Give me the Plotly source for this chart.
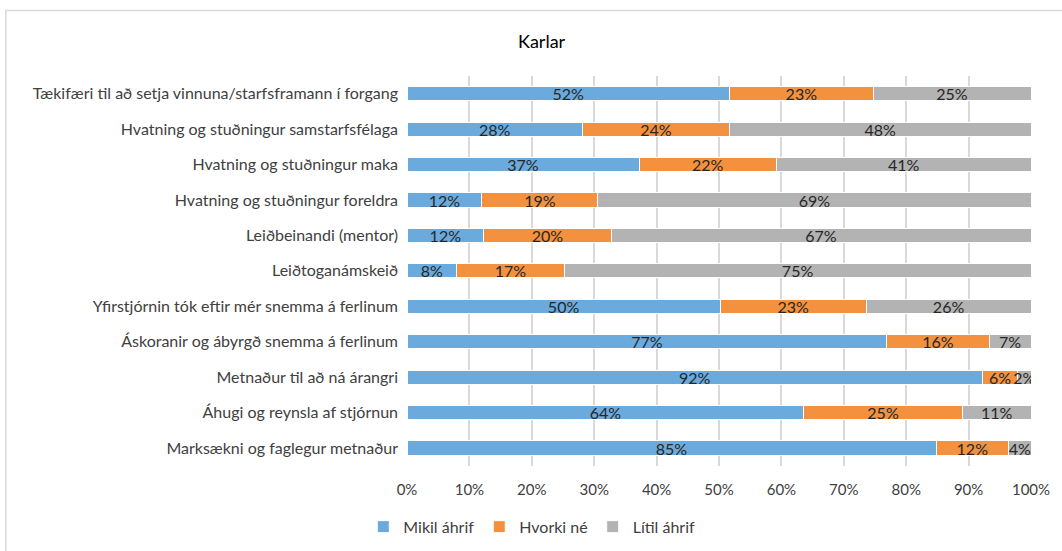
import plotly.graph_objects as go

# Categories, top to bottom as shown
categories = [
    "Tækifæri til að setja vinnuna/starfsframann í forgang",
    "Hvatning og stuðningur samstarfsfélaga",
    "Hvatning og stuðningur maka",
    "Hvatning og stuðningur foreldra",
    "Leiðbeinandi (mentor)",
    "Leiðtoganámskeið",
    "Yfirstjórnin tók eftir mér snemma á ferlinum",
    "Áskoranir og ábyrgð snemma á ferlinum",
    "Metnaður til að ná árangri",
    "Áhugi og reynsla af stjórnun",
    "Marksækni og faglegur metnaður",
]

mikil = [51.7, 28.1, 37.2, 12.0, 12.3, 8.0, 50.2, 76.9, 92.2, 63.6, 84.8]
hvorki = [23.0, 23.6, 22.0, 18.6, 20.4, 17.2, 23.4, 16.4, 5.7, 25.4, 11.6]
litil = [25.3, 48.3, 40.8, 69.4, 67.3, 74.8, 26.4, 6.7, 2.1, 11.0, 3.6]

series = [
    ("Mikil áhrif", mikil, "#6AAADD"),
    ("Hvorki né", hvorki, "#F3913F"),
    ("Lítil áhrif", litil, "#B3B3B3"),
]

FONT = "Lato, 'Open Sans', sans-serif"

fig = go.Figure()
for name, vals, color in series:
    fig.add_trace(go.Bar(
        y=categories, x=vals, name=name, orientation="h",
        marker=dict(color=color, line=dict(color="white", width=1)),
        text=[f"{round(v):.0f}%" for v in vals],
        textposition="inside", insidetextanchor="middle", textangle=0,
        textfont=dict(color="#262626", size=16, family=FONT),
        hovertemplate="%{y}: %{x:.1f}%<extra>" + name + "</extra>",
    ))

fig.update_layout(
    barmode="stack",
    bargap=0.6,
    width=1062, height=551,
    margin=dict(l=407, r=28, t=76, b=83),
    paper_bgcolor="white", plot_bgcolor="white",
    font=dict(family=FONT, size=16, color="#404040"),
    uniformtext=dict(minsize=16, mode="show"),
    title=dict(text="Karlar", x=0.51, xref="container", xanchor="center",
               y=0.925, yref="container", yanchor="middle",
               font=dict(size=18, color="#000000", family=FONT)),
    legend=dict(orientation="h", x=0.2, xanchor="center",
                y=0.044, yref="container", yanchor="middle",
                font=dict(size=16, color="#404040"), traceorder="normal",
                itemwidth=30),
    xaxis=dict(range=[0, 100], dtick=10, ticksuffix="%", showgrid=True,
               gridcolor="#D9D9D9", gridwidth=1.5, zeroline=False,
               showline=False, fixedrange=True, ticklabelstandoff=13,
               tickfont=dict(size=15)),
    yaxis=dict(autorange="reversed", showgrid=False, ticks="", ticklabelstandoff=8),
    shapes=[dict(type="rect", xref="paper", yref="paper",
                 x0=-0.643, x1=1.2, y0=-0.4, y1=1.168,
                 line=dict(color="#D9D9D9", width=1.5), layer="below")],
)

fig.write_html("out.html", config={"displayModeBar": False},
               post_script="document.body.style.margin='0';")
